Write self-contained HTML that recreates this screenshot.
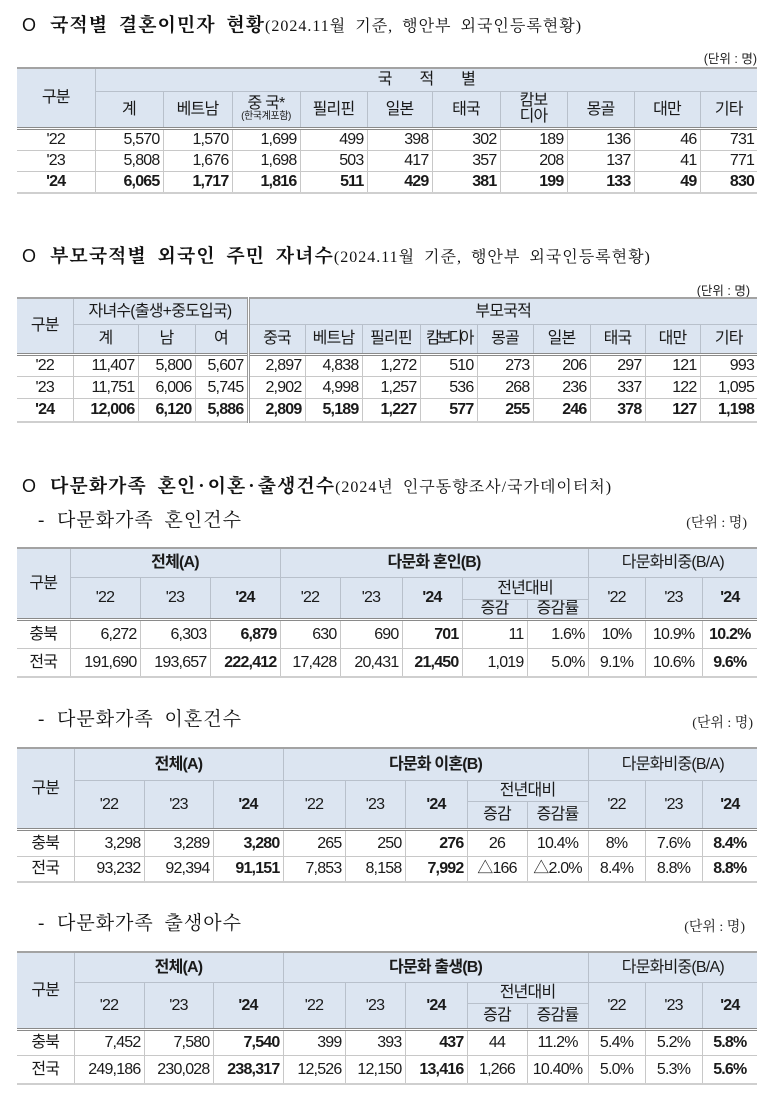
<!DOCTYPE html>
<html><head><meta charset="utf-8">
<style>
*{box-sizing:border-box}
body{margin:0;width:780px;height:1094px;position:relative;background:#fff;overflow:hidden;color:#1a1a1a}
.h{position:absolute;left:22px;white-space:nowrap;font-family:"Liberation Serif","Noto Serif CJK SC",serif;line-height:24px;color:#111}
.o{font-family:"Liberation Sans",sans-serif;font-size:18px;display:inline-block;width:28px;font-weight:normal}
.hb{font-size:19px;font-weight:bold;letter-spacing:1px;word-spacing:5px}
.hb i{font-style:normal;margin:0 2px}
.hs{font-size:16px;letter-spacing:1px;word-spacing:4px}
.sub{position:absolute;left:38px;font-family:"Liberation Serif","Noto Serif CJK SC",serif;font-size:19px;letter-spacing:1px;word-spacing:5px;line-height:24px;white-space:nowrap;color:#111}
.sub span{display:inline-block;width:19px}
.u{position:absolute;font-size:12.5px;font-family:"Liberation Sans","Noto Sans CJK KR",sans-serif;white-space:nowrap;line-height:14px;color:#222}
.us{font-family:"Liberation Serif","Noto Serif CJK SC",serif;font-size:14px}
table{position:absolute;left:17px;width:740px;border-collapse:collapse;table-layout:fixed;font-family:"Liberation Sans","Noto Sans CJK KR",sans-serif;font-size:16px;letter-spacing:-0.8px;color:#1a1a1a}
td{padding:0 3px;text-align:right;border:1px solid #c8c8c8;line-height:17px;white-space:nowrap;overflow:hidden}
tr>td:first-child{border-left:none;text-align:center}
tr>td:last-child{border-right:none}
.hd td{background:#dce5f1;text-align:center;border-color:#b8c0cb}
tr.top td{border-top:2px solid #a3a3a3}
tr.b1 td{border-top:3px double #8a8a8a}
tr.bl td{border-bottom:2px solid #cfcfcf}
td.c{text-align:center}
.bd td{font-weight:bold}
b{font-weight:bold}
.dv{border-right:3px double #9a9a9a !important}
.sm{font-size:10px;line-height:12px;display:block;letter-spacing:-0.4px}
</style></head><body>

<div class="h" style="top:13px"><span class="o">O</span><span class="hb">국적별 결혼이민자 현황</span><span class="hs">(2024.11월 기준, 행안부 외국인등록현황)</span></div>
<div class="u" style="top:52px;right:23px">(단위 : 명)</div>

<table style="top:67px">
<colgroup><col style="width:78px"><col style="width:68px"><col style="width:69px"><col style="width:68px"><col style="width:67px"><col style="width:65px"><col style="width:68px"><col style="width:67px"><col style="width:67px"><col style="width:66px"><col style="width:57px"></colgroup>
<tr class="hd top" style="height:23px"><td rowspan="2">구분</td><td colspan="10" style="letter-spacing:27px;padding-left:31px">국적별</td></tr>
<tr class="hd" style="height:37px"><td>계</td><td>베트남</td><td><span style="display:block;line-height:15px">중 국*</span><span class="sm">(한국계포함)</span></td><td>필리핀</td><td>일본</td><td>태국</td><td style="line-height:16px">캄보<br>디아</td><td>몽골</td><td>대만</td><td>기타</td></tr>
<tr class="b1" style="height:22px"><td>'22</td><td>5,570</td><td>1,570</td><td>1,699</td><td>499</td><td>398</td><td>302</td><td>189</td><td>136</td><td>46</td><td>731</td></tr>
<tr style="height:21px"><td>'23</td><td>5,808</td><td>1,676</td><td>1,698</td><td>503</td><td>417</td><td>357</td><td>208</td><td>137</td><td>41</td><td>771</td></tr>
<tr class="bd bl" style="height:22px"><td>'24</td><td>6,065</td><td>1,717</td><td>1,816</td><td>511</td><td>429</td><td>381</td><td>199</td><td>133</td><td>49</td><td>830</td></tr>
</table>

<div class="h" style="top:244px"><span class="o">O</span><span class="hb">부모국적별 외국인 주민 자녀수</span><span class="hs">(2024.11월 기준, 행안부 외국인등록현황)</span></div>
<div class="u" style="top:284px;right:30px">(단위 : 명)</div>

<table style="top:297px">
<colgroup><col style="width:56px"><col style="width:65px"><col style="width:57px"><col style="width:53px"><col style="width:57px"><col style="width:57px"><col style="width:58px"><col style="width:57px"><col style="width:56px"><col style="width:57px"><col style="width:55px"><col style="width:55px"><col style="width:57px"></colgroup>
<tr class="hd top" style="height:26px"><td rowspan="2">구분</td><td colspan="3" class="dv">자녀수(출생+중도입국)</td><td colspan="9">부모국적</td></tr>
<tr class="hd" style="height:30px"><td>계</td><td>남</td><td class="dv">여</td><td>중국</td><td>베트남</td><td>필리핀</td><td style="letter-spacing:-3.5px">캄보디아</td><td>몽골</td><td>일본</td><td>태국</td><td>대만</td><td>기타</td></tr>
<tr class="b1" style="height:22px"><td>'22</td><td>11,407</td><td>5,800</td><td class="dv">5,607</td><td>2,897</td><td>4,838</td><td>1,272</td><td>510</td><td>273</td><td>206</td><td>297</td><td>121</td><td>993</td></tr>
<tr style="height:22px"><td>'23</td><td>11,751</td><td>6,006</td><td class="dv">5,745</td><td>2,902</td><td>4,998</td><td>1,257</td><td>536</td><td>268</td><td>236</td><td>337</td><td>122</td><td>1,095</td></tr>
<tr class="bd bl" style="height:24px"><td>'24</td><td>12,006</td><td>6,120</td><td class="dv">5,886</td><td>2,809</td><td>5,189</td><td>1,227</td><td>577</td><td>255</td><td>246</td><td>378</td><td>127</td><td>1,198</td></tr>
</table>

<div class="h" style="top:474px"><span class="o">O</span><span class="hb">다문화가족 혼인<i>·</i>이혼<i>·</i>출생건수</span><span class="hs">(2024년 인구동향조사/국가데이터처)</span></div>
<div class="sub" style="top:509px"><span>-</span>다문화가족 혼인건수</div>
<div class="u us" style="top:517px;right:33px">(단위 : 명)</div>

<table style="top:547px">
<colgroup><col style="width:53px"><col style="width:70px"><col style="width:70px"><col style="width:70px"><col style="width:60px"><col style="width:62px"><col style="width:60px"><col style="width:65px"><col style="width:61px"><col style="width:57px"><col style="width:57px"><col style="width:55px"></colgroup>
<tr class="hd top" style="height:29px"><td rowspan="3">구분</td><td colspan="3"><b>전체(A)</b></td><td colspan="5"><b>다문화 혼인(B)</b></td><td colspan="3">다문화비중(B/A)</td></tr>
<tr class="hd" style="height:22px"><td rowspan="2">'22</td><td rowspan="2">'23</td><td rowspan="2"><b>'24</b></td><td rowspan="2">'22</td><td rowspan="2">'23</td><td rowspan="2"><b>'24</b></td><td colspan="2">전년대비</td><td rowspan="2">'22</td><td rowspan="2">'23</td><td rowspan="2"><b>'24</b></td></tr>
<tr class="hd" style="height:20px"><td>증감</td><td>증감률</td></tr>
<tr class="b1" style="height:29px"><td>충북</td><td>6,272</td><td>6,303</td><td><b>6,879</b></td><td>630</td><td>690</td><td><b>701</b></td><td>11</td><td>1.6%</td><td class="c">10%</td><td class="c">10.9%</td><td class="c"><b>10.2%</b></td></tr>
<tr class="bl" style="height:29px"><td>전국</td><td>191,690</td><td>193,657</td><td><b>222,412</b></td><td>17,428</td><td>20,431</td><td><b>21,450</b></td><td>1,019</td><td>5.0%</td><td class="c">9.1%</td><td class="c">10.6%</td><td class="c"><b>9.6%</b></td></tr>
</table>

<div class="sub" style="top:708px"><span>-</span>다문화가족 이혼건수</div>
<div class="u us" style="top:717px;right:27px">(단위 : 명)</div>

<table style="top:747px">
<colgroup><col style="width:57px"><col style="width:70px"><col style="width:69px"><col style="width:70px"><col style="width:62px"><col style="width:60px"><col style="width:62px"><col style="width:60px"><col style="width:61px"><col style="width:57px"><col style="width:57px"><col style="width:55px"></colgroup>
<tr class="hd top" style="height:32px"><td rowspan="3">구분</td><td colspan="3"><b>전체(A)</b></td><td colspan="5"><b>다문화 이혼(B)</b></td><td colspan="3">다문화비중(B/A)</td></tr>
<tr class="hd" style="height:21px"><td rowspan="2">'22</td><td rowspan="2">'23</td><td rowspan="2"><b>'24</b></td><td rowspan="2">'22</td><td rowspan="2">'23</td><td rowspan="2"><b>'24</b></td><td colspan="2">전년대비</td><td rowspan="2">'22</td><td rowspan="2">'23</td><td rowspan="2"><b>'24</b></td></tr>
<tr class="hd" style="height:28px"><td>증감</td><td>증감률</td></tr>
<tr class="b1" style="height:27px"><td>충북</td><td>3,298</td><td>3,289</td><td><b>3,280</b></td><td>265</td><td>250</td><td><b>276</b></td><td class="c">26</td><td class="c">10.4%</td><td class="c">8%</td><td class="c">7.6%</td><td class="c"><b>8.4%</b></td></tr>
<tr class="bl" style="height:26px"><td>전국</td><td>93,232</td><td>92,394</td><td><b>91,151</b></td><td>7,853</td><td>8,158</td><td><b>7,992</b></td><td class="c">△166</td><td class="c">△2.0%</td><td class="c">8.4%</td><td class="c">8.8%</td><td class="c"><b>8.8%</b></td></tr>
</table>

<div class="sub" style="top:912px"><span>-</span>다문화가족 출생아수</div>
<div class="u us" style="top:921px;right:35px">(단위 : 명)</div>

<table style="top:951px">
<colgroup><col style="width:57px"><col style="width:70px"><col style="width:69px"><col style="width:70px"><col style="width:62px"><col style="width:60px"><col style="width:62px"><col style="width:60px"><col style="width:61px"><col style="width:57px"><col style="width:57px"><col style="width:55px"></colgroup>
<tr class="hd top" style="height:30px"><td rowspan="3">구분</td><td colspan="3"><b>전체(A)</b></td><td colspan="5"><b>다문화 출생(B)</b></td><td colspan="3">다문화비중(B/A)</td></tr>
<tr class="hd" style="height:21px"><td rowspan="2">'22</td><td rowspan="2">'23</td><td rowspan="2"><b>'24</b></td><td rowspan="2">'22</td><td rowspan="2">'23</td><td rowspan="2"><b>'24</b></td><td colspan="2">전년대비</td><td rowspan="2">'22</td><td rowspan="2">'23</td><td rowspan="2"><b>'24</b></td></tr>
<tr class="hd" style="height:26px"><td>증감</td><td>증감률</td></tr>
<tr class="b1" style="height:26px"><td>충북</td><td>7,452</td><td>7,580</td><td><b>7,540</b></td><td>399</td><td>393</td><td><b>437</b></td><td class="c">44</td><td class="c">11.2%</td><td class="c">5.4%</td><td class="c">5.2%</td><td class="c"><b>5.8%</b></td></tr>
<tr class="bl" style="height:29px"><td>전국</td><td>249,186</td><td>230,028</td><td><b>238,317</b></td><td>12,526</td><td>12,150</td><td><b>13,416</b></td><td class="c">1,266</td><td class="c">10.40%</td><td class="c">5.0%</td><td class="c">5.3%</td><td class="c"><b>5.6%</b></td></tr>
</table>

</body></html>
